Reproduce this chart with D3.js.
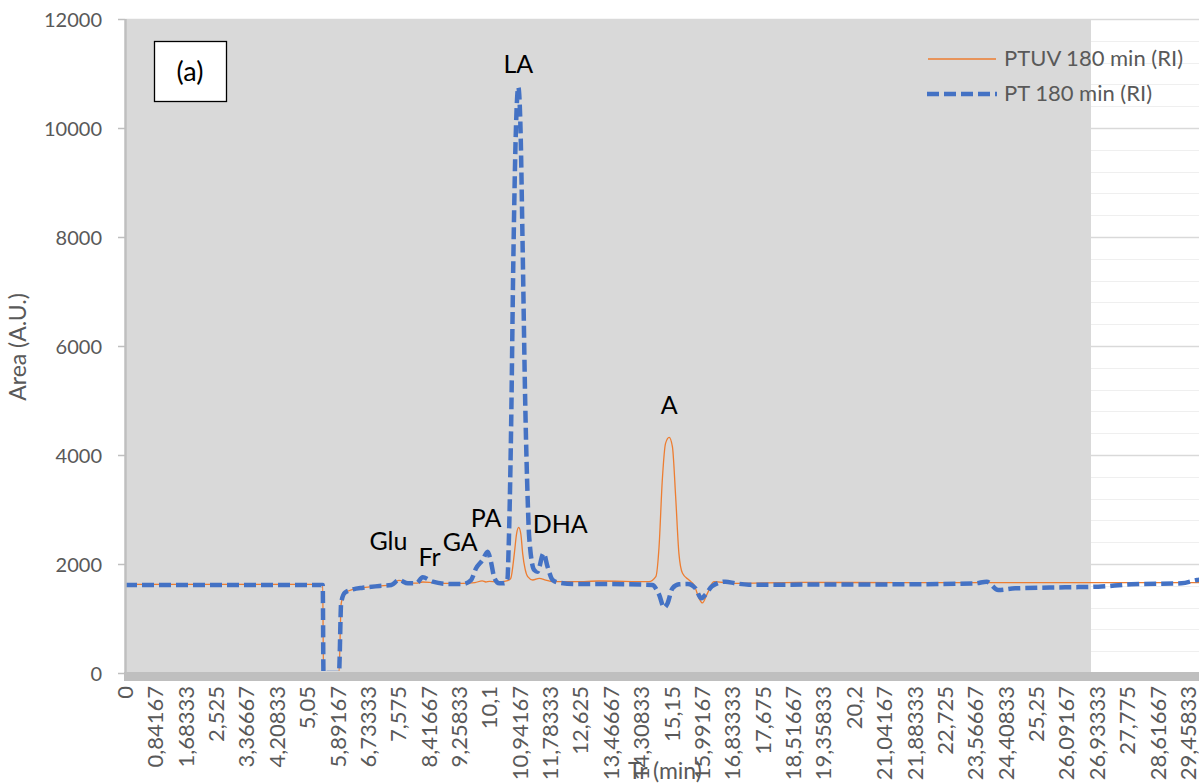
<!DOCTYPE html>
<html>
<head>
<meta charset="utf-8">
<title>Chromatogram (a)</title>
<script src="https://d3js.org/d3.v7.min.js"></script>
<style>
    body { margin: 0; background: #fff; }
    svg { display: block; font-family: Lato, "Open Sans", sans-serif; }
    .tick-y { font-size: 20px; fill: #595959; }
    .tick-x { font-size: 22px; fill: #595959; }
    .axis-title { font-size: 23px; fill: #595959; }
    .legend-text { font-size: 22px; fill: #595959; }
    .peak { font-size: 25px; fill: #000; }
    .panel-tag { font-size: 27px; fill: #000; }
</style>
</head>
<body>
<svg id="chart" width="1199" height="784"></svg>
<script>
// retention time (min), area (A.U.)
const ptuv = [
    [0, 1625], [5.48, 1625], [5.50, 0], [5.93, 0], [5.99, 1270], [6.09, 1470],
    [6.32, 1535], [6.59, 1565], [7.05, 1596], [7.38, 1615], [7.59, 1700], [7.84, 1650],
    [8.07, 1650], [8.25, 1670], [8.53, 1660], [8.99, 1645], [9.36, 1645], [9.7, 1660],
    [9.9, 1690], [10.0, 1670], [10.1, 1680], [10.3, 1670], [10.5, 1680], [10.62, 1700],
    [10.69, 1737], [10.79, 2196], [10.85, 2550], [10.91, 2673], [10.97, 2550], [11.02, 2196],
    [11.09, 1900], [11.16, 1767], [11.30, 1706], [11.48, 1737], [11.66, 1706], [11.85, 1676],
    [12.5, 1676], [13.14, 1688], [14.52, 1676], [14.71, 1767], [14.80, 2318], [14.89, 3541],
    [14.98, 4214], [15.08, 4324], [15.17, 4153], [15.26, 3235], [15.35, 2196], [15.45, 1829],
    [15.63, 1706], [15.77, 1615], [15.91, 1370], [16.00, 1285], [16.14, 1462], [16.32, 1676],
    [16.83, 1645], [18.67, 1664], [21.4, 1657], [29.9, 1657]
];
const pt = [
    [0, 1615], [5.48, 1615], [5.50, 0], [5.93, 0], [5.99, 1279], [6.09, 1474],
    [6.32, 1535], [6.59, 1565], [7.05, 1596], [7.38, 1615], [7.59, 1706], [7.84, 1645],
    [8.07, 1645], [8.25, 1756], [8.53, 1676], [8.99, 1633], [9.36, 1633], [9.59, 1706],
    [9.73, 1921], [9.91, 2073], [10.05, 2226], [10.14, 2043], [10.24, 1737], [10.37, 1645],
    [10.51, 1645], [10.60, 1737], [10.63, 2257], [10.70, 4500], [10.76, 7500], [10.83, 9900],
    [10.90, 10750], [10.96, 10000], [11.02, 7800], [11.09, 5000], [11.16, 3174], [11.20, 2501],
    [11.34, 1890], [11.43, 1859], [11.60, 2196], [11.71, 1950], [11.85, 1706], [12.03, 1657],
    [12.49, 1633], [13.14, 1633], [14.61, 1615], [14.80, 1440], [14.94, 1200], [15.03, 1270],
    [15.17, 1553], [15.35, 1627], [15.60, 1633], [15.81, 1553], [15.97, 1370], [16.09, 1440],
    [16.27, 1596], [16.64, 1676], [16.92, 1645], [17.29, 1621], [21.44, 1627], [23.56, 1645],
    [23.88, 1676], [24.20, 1523], [24.67, 1553], [26.05, 1572], [26.97, 1584], [27.89, 1627],
    [29.28, 1645], [29.71, 1706], [29.9, 1720]
];
const xTickLabels = [
    "0", "0,84167", "1,68333", "2,525", "3,36667", "4,20833", "5,05", "5,89167", "6,73333",
    "7,575", "8,41667", "9,25833", "10,1", "10,94167", "11,78333", "12,625", "13,46667",
    "14,30833", "15,15", "15,99167", "16,83333", "17,675", "18,51667", "19,35833", "20,2",
    "21,04167", "21,88333", "22,725", "23,56667", "24,40833", "25,25", "26,09167", "26,93333",
    "27,775", "28,61667", "29,45833"
];
const yTicks = [0, 2000, 4000, 6000, 8000, 10000, 12000];
const peakLabels = [
    { name: "Glu", t: 7.30, v: 2257 },
    { name: "Fr", t: 8.44, v: 1963 },
    { name: "GA", t: 9.29, v: 2239 },
    { name: "PA", t: 10.01, v: 2679 },
    { name: "LA", t: 10.90, v: 11009 },
    { name: "DHA", t: 12.06, v: 2569 },
    { name: "A", t: 15.08, v: 4752 }
];
const seriesNames = ["PTUV 180 min (RI)", "PT 180 min (RI)"];

const svg = d3.select('#chart');
const plotLeft = 125, plotRight = 1199, plotTop = 19, plotBottom = 673, greyEnd = 1091;

const xTickValues = xTickLabels.map(s => +s.replace(',', '.'));
const x = d3.scaleLinear()
    .domain([0, xTickValues[xTickValues.length - 1]])
    .range([plotLeft, 1188]);
const y = d3.scaleLinear().domain([0, 12000]).range([plotBottom, plotTop]);

// gridlines (only visible right of the grey panel)
const grid = svg.append('g');
d3.range(0, 12001, 400).forEach(v => {
    grid.append('line')
        .attr('x1', plotLeft).attr('x2', plotRight)
        .attr('y1', Math.round(y(v)) + 0.5).attr('y2', Math.round(y(v)) + 0.5)
        .attr('stroke', v % 2000 === 0 ? '#d9d9d9' : '#efefef')
        .attr('stroke-width', v % 2000 === 0 ? 1.5 : 1.2);
});

// grey panel
svg.append('rect')
    .attr('x', plotLeft).attr('y', plotTop)
    .attr('width', greyEnd - plotLeft).attr('height', plotBottom - plotTop)
    .attr('fill', '#d9d9d9');

// series (clipped just above the axis band, so the zero stretch is hidden)
svg.append('clipPath').attr('id', 'plot-clip')
    .append('rect').attr('x', plotLeft).attr('y', 0)
    .attr('width', plotRight - plotLeft).attr('height', plotBottom - 2);

const line = d3.line()
    .x(d => x(d[0]))
    .y(d => y(d[1]))
    .curve(d3.curveMonotoneX);

const plot = svg.append('g').attr('clip-path', 'url(#plot-clip)');
plot.append('path')
    .datum(ptuv)
    .attr('d', line)
    .attr('fill', 'none')
    .attr('stroke', '#ed7d31')
    .attr('stroke-width', 1.3);
plot.append('path')
    .datum(pt)
    .attr('d', line)
    .attr('fill', 'none')
    .attr('stroke', '#4472c4')
    .attr('stroke-width', 4.5)
    .attr('stroke-dasharray', '12,5');

// thick horizontal axis band
svg.append('rect')
    .attr('x', plotLeft - 1).attr('y', plotBottom - 1)
    .attr('width', plotRight - plotLeft + 1).attr('height', 9)
    .attr('fill', '#bfbfbf');

// y axis line + ticks
svg.append('line')
    .attr('x1', plotLeft + 0.5).attr('x2', plotLeft + 0.5)
    .attr('y1', plotTop).attr('y2', plotBottom + 8)
    .attr('stroke', '#bfbfbf').attr('stroke-width', 2.5);

const yAxis = svg.append('g');
yAxis.selectAll('line').data(yTicks).join('line')
    .attr('x1', plotLeft - 7).attr('x2', plotLeft)
    .attr('y1', d => y(d) + 0.5).attr('y2', d => y(d) + 0.5)
    .attr('stroke', '#bfbfbf').attr('stroke-width', 1.5);
yAxis.selectAll('text').data(yTicks).join('text')
    .attr('class', 'tick-y')
    .attr('x', 102).attr('y', d => y(d) + 1)
    .attr('dy', '0.35em')
    .attr('text-anchor', 'end')
    .text(d => d);

// x tick labels, rotated
svg.append('g').selectAll('text').data(xTickLabels).join('text')
    .attr('class', 'tick-x')
    .attr('text-anchor', 'end')
    .attr('transform', (d, i) => `translate(${x(xTickValues[i])},686) rotate(-90)`)
    .attr('dy', '0.36em')
    .text(d => d);

// axis titles
svg.append('text')
    .attr('class', 'axis-title')
    .attr('text-anchor', 'middle')
    .attr('transform', 'translate(26,347) rotate(-90)')
    .text('Area (A.U.)');
svg.append('text')
    .attr('class', 'axis-title')
    .attr('text-anchor', 'middle')
    .attr('x', 665).attr('y', 779)
    .text('Tr (min)');

// peak labels
svg.append('g').selectAll('text').data(peakLabels).join('text')
    .attr('class', 'peak')
    .attr('text-anchor', 'middle')
    .attr('x', d => x(d.t))
    .attr('y', d => y(d.v))
    .text(d => d.name);

// (a) box
svg.append('rect')
    .attr('x', 154.5).attr('y', 41.5)
    .attr('width', 72).attr('height', 60)
    .attr('fill', '#fff').attr('stroke', '#000').attr('stroke-width', 1.3);
svg.append('text')
    .attr('class', 'panel-tag')
    .attr('x', 190).attr('y', 81)
    .attr('text-anchor', 'middle')
    .text('(a)');

// legend
const legend = svg.append('g');
legend.append('line')
    .attr('x1', 928).attr('x2', 996).attr('y1', 59).attr('y2', 59)
    .attr('stroke', '#ed7d31').attr('stroke-width', 1.3);
legend.append('line')
    .attr('x1', 927).attr('x2', 997).attr('y1', 94).attr('y2', 94)
    .attr('stroke', '#4472c4').attr('stroke-width', 4.5)
    .attr('stroke-dasharray', '12,5');
legend.selectAll('text').data(seriesNames).join('text')
    .attr('class', 'legend-text')
    .attr('x', 1004)
    .attr('y', (d, i) => 66 + i * 35)
    .text(d => d);
</script>
</body>
</html>
